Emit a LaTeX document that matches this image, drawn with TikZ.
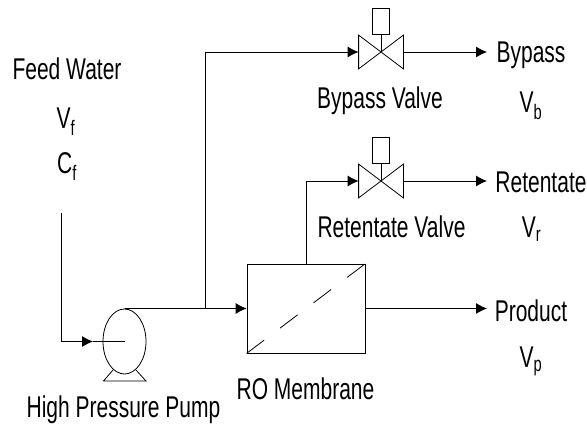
\documentclass[tikz,border=0pt]{standalone}
\usepackage{fontspec}
\setmainfont[FakeStretch=0.7]{Liberation Sans}
\usepackage{tikz}
\usetikzlibrary{arrows.meta,calc,positioning,shapes.geometric}

\begin{document}
\begin{tikzpicture}[x=1pt,y=-1pt,>={Latex[length=11pt,width=11pt]},line width=0.8pt,
    lbl/.style={font=\fontsize{30}{32}\selectfont, inner sep=0pt, anchor=base},
    valve/.style={minimum width=44pt, minimum height=33pt, inner sep=0pt},
    actuator/.style={draw, minimum width=17pt, minimum height=26pt, inner sep=0pt},
    membrane/.style={draw, minimum width=118pt, minimum height=89pt, inner sep=0pt},
    pump/.style={draw, ellipse, minimum width=43pt, minimum height=65pt, inner sep=0pt}]
    \useasboundingbox (0,0) rectangle (587,430);

    \node[pump] (pump) at (124.5,341.5) {};
    \node[membrane] (mem) at (306,308.5) {};
    \node[valve] (bvalve) at (381,52) {};
    \node[valve] (rvalve) at (381,181) {};
    \node[actuator] (bact) at (381,21) {};
    \node[actuator] (ract) at (381,150) {};

    % Valve bodies
    \foreach \v/\a in {bvalve/bact, rvalve/ract} {
        \draw (\v.north west) -- (\v.south east) -- (\v.north east) -- (\v.south west) -- cycle;
        \draw (\a.south) -- (\v.center);
    }

    % Pump stand
    \coordinate (feed) at (61,213);
    \coordinate (feedtip) at (93,341.5);
    \coordinate (split) at (205,308.5);
    \coordinate (standl) at (103.5,381);
    \coordinate (standr) at (146,381);
    \draw (113,370) -- (standl) -- (standr) -- (136,370);
    \draw[dash pattern=on 22pt off 20pt] (mem.south west) -- (mem.north east);

    % Pipes
    \draw[->] (feed) |- (feedtip);
    \draw (feedtip) -- (pump.center);
    \draw (pump.north) -- (split);
    \draw[->] (split) -- (mem.west);
    \draw[->] (split) |- (bvalve.west);
    \draw[->] (mem.north) |- (rvalve.west);

    \coordinate (btip) at (487,52);
    \coordinate (rtip) at (487,181);
    \coordinate (ptip) at (487,308.5);
    \draw[->] (bvalve.east) -- (btip);
    \draw[->] (rvalve.east) -- (rtip);
    \draw[->] (mem.east) -- (ptip);

    % Labels
    \node[lbl] (bout) at (531,63) {Bypass};
    \node[lbl] (rout) at (541,193) {Retentate};
    \node[lbl] (pout) at (531,322) {Product};
    \node[lbl] (fw) at (67,80) {Feed Water};
    \node[lbl] (vf) at (66,129) {V\textsubscript{f}};
    \node[lbl] (cf) at (67,174) {C\textsubscript{f}};
    \node[lbl] (bv) at (380,109) {Bypass Valve};
    \node[lbl] (vb) at (531,113) {V\textsubscript{b}};
    \node[lbl] (rv) at (391.5,238) {Retentate Valve};
    \node[lbl] (vr) at (531.5,238) {V\textsubscript{r}};
    \node[lbl] (vp) at (531,368) {V\textsubscript{p}};
    \node[lbl] (ro) at (305.5,400) {RO Membrane};
    \node[lbl] (hp) at (123.5,418) {High Pressure Pump};
\end{tikzpicture}
\end{document}
